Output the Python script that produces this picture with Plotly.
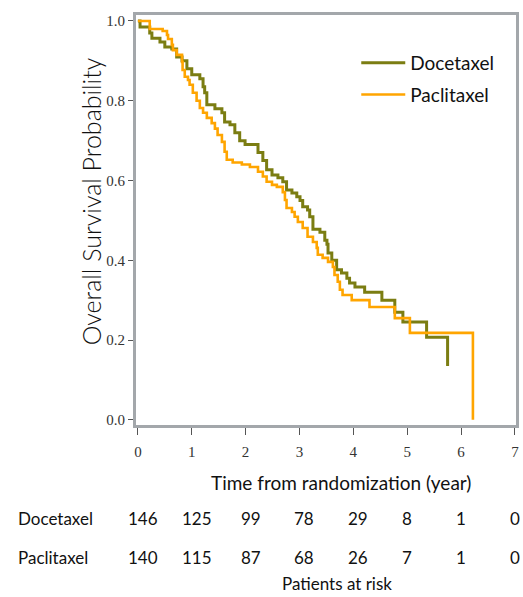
import plotly.graph_objects as go

# Kaplan-Meier step data (time in years, survival probability)
doc_t = [0, 0.04, 0.22, 0.26, 0.41, 0.50, 0.63, 0.72, 0.82, 0.91, 1.00, 1.15, 1.21, 1.24, 1.28,
         1.43, 1.56, 1.61, 1.71, 1.80, 1.89, 1.99, 2.23, 2.32, 2.39, 2.49, 2.60, 2.69, 2.76,
         2.86, 2.95, 3.01, 3.06, 3.15, 3.19, 3.25, 3.38, 3.47, 3.51, 3.53, 3.60, 3.69, 3.78,
         3.88, 3.93, 4.03, 4.21, 4.53, 4.77, 4.92, 5.36, 5.75]
doc_s = [1.0, 0.985, 0.97, 0.957, 0.947, 0.935, 0.93, 0.91, 0.90, 0.88, 0.865, 0.855, 0.835, 0.82, 0.79,
         0.78, 0.77, 0.747, 0.74, 0.72, 0.70, 0.69, 0.67, 0.65, 0.627, 0.614, 0.607, 0.597, 0.576,
         0.569, 0.559, 0.55, 0.534, 0.526, 0.509, 0.478, 0.47, 0.45, 0.44, 0.418, 0.40, 0.376, 0.368,
         0.355, 0.343, 0.333, 0.32, 0.30, 0.27, 0.245, 0.207, 0.135]

pac_t = [0, 0.22, 0.46, 0.54, 0.56, 0.63, 0.65, 0.72, 0.82, 0.83, 0.87, 0.93, 0.96, 1.02, 1.09,
         1.15, 1.21, 1.28, 1.37, 1.43, 1.48, 1.56, 1.61, 1.65, 1.76, 1.93, 2.08, 2.23, 2.32,
         2.39, 2.49, 2.58, 2.69, 2.73, 2.76, 2.86, 2.91, 2.97, 3.06, 3.15, 3.25, 3.32, 3.34,
         3.43, 3.53, 3.62, 3.65, 3.71, 3.75, 3.80, 3.97, 4.30, 4.77, 5.05, 6.22]
pac_s = [1.0, 0.98, 0.975, 0.965, 0.955, 0.94, 0.927, 0.915, 0.897, 0.877, 0.86, 0.852, 0.84, 0.82, 0.80,
         0.782, 0.77, 0.757, 0.744, 0.73, 0.714, 0.697, 0.672, 0.652, 0.645, 0.64, 0.634, 0.622, 0.61,
         0.597, 0.589, 0.584, 0.571, 0.551, 0.531, 0.521, 0.509, 0.496, 0.481, 0.459, 0.446, 0.431, 0.414,
         0.406, 0.396, 0.383, 0.363, 0.346, 0.326, 0.313, 0.30, 0.283, 0.255, 0.218, 0.0]

# Number at risk table
risk_times = [0, 1, 2, 3, 4, 5, 6, 7]
doc_risk = [146, 125, 99, 78, 29, 8, 1, 0]
pac_risk = [140, 115, 87, 68, 26, 7, 1, 0]

x_ticks = [0, 1, 2, 3, 4, 5, 6, 7]
y_ticks = [0.0, 0.2, 0.4, 0.6, 0.8, 1.0]

OLIVE = "#7b7d12"
ORANGE = "#ffa500"
TXT_FONT = "Lato"
TICK_FONT = "Liberation Serif"

fig = go.Figure()
fig.add_trace(go.Scatter(x=doc_t, y=doc_s, mode="lines", line=dict(color=OLIVE, width=3, shape="hv"),
                         name="Docetaxel", legendgroup="a"))
fig.add_trace(go.Scatter(x=pac_t, y=pac_s, mode="lines", line=dict(color=ORANGE, width=2.6, shape="hv"),
                         name="Paclitaxel", legendgroup="b"))

frame = "#a3a7ab"
fig.update_xaxes(range=[-0.035, 7.02], tickvals=x_ticks, ticktext=[str(v) for v in x_ticks],
                 showgrid=False, zeroline=False, showline=True, linecolor=frame, linewidth=3,
                 mirror=True, ticks="outside", ticklen=7, tickcolor="#555", tickwidth=1,
                 ticklabelstandoff=4,
                 tickfont=dict(family=TICK_FONT, size=15, color="#333"))
fig.update_yaxes(range=[-0.013, 1.015], tickvals=y_ticks, ticktext=["%.1f" % v for v in y_ticks],
                 showgrid=False, zeroline=False, showline=True, linecolor=frame, linewidth=3,
                 mirror=True, ticks="outside", ticklen=5, tickcolor="#555", tickwidth=1,
                 tickfont=dict(family=TICK_FONT, size=15, color="#333"))

L, T, W, H = 136, 15, 383, 410
annotations = []
annotations.append(dict(text="Overall Survival Probability", xref="paper", yref="paper",
                        x=(91 - L) / W, y=(T + H - 201) / H, textangle=-90, showarrow=False,
                        xanchor="center", yanchor="middle",
                        font=dict(family=TXT_FONT, size=25, color="#111", weight=300)))
annotations.append(dict(text="Time from randomization (year)", xref="paper", yref="paper",
                        x=(343 - L) / W, y=(T + H - 483) / H, showarrow=False,
                        xanchor="center", yanchor="middle",
                        font=dict(family=TXT_FONT, size=19, color="#111")))
annotations.append(dict(text="Patients at risk", xref="paper", yref="paper",
                        x=(339 - L) / W, y=(T + H - 583) / H, showarrow=False,
                        xanchor="center", yanchor="middle",
                        font=dict(family=TXT_FONT, size=17, color="#111")))
for name, vals, ypx in [("Docetaxel", doc_risk, 518), ("Paclitaxel", pac_risk, 557)]:
    yp = (T + H - ypx) / H
    annotations.append(dict(text=name, xref="paper", yref="paper", x=(15 - L) / W, y=yp,
                            showarrow=False, xanchor="left", yanchor="middle",
                            font=dict(family=TXT_FONT, size=17, color="#111")))
    for t, v in zip(risk_times, vals):
        annotations.append(dict(text=str(v), xref="x", yref="paper", x=t, y=yp,
                                xshift=5 if t < 5 else 0,
                                showarrow=False, xanchor="center", yanchor="middle",
                                font=dict(family=TXT_FONT, size=17, color="#111")))

fig.update_layout(
    width=523, height=597,
    margin=dict(l=L, r=523 - L - W, t=T, b=597 - T - H),
    paper_bgcolor="white", plot_bgcolor="white",
    showlegend=True,
    legend=dict(x=(358 - L) / W, y=(T + H - 44) / H, xanchor="left", yanchor="top",
                bgcolor="rgba(0,0,0,0)", font=dict(family=TXT_FONT, size=19, color="#111"),
                itemwidth=44, traceorder="grouped", tracegroupgap=4),
    annotations=annotations,
)

fig.write_html("out.html")
